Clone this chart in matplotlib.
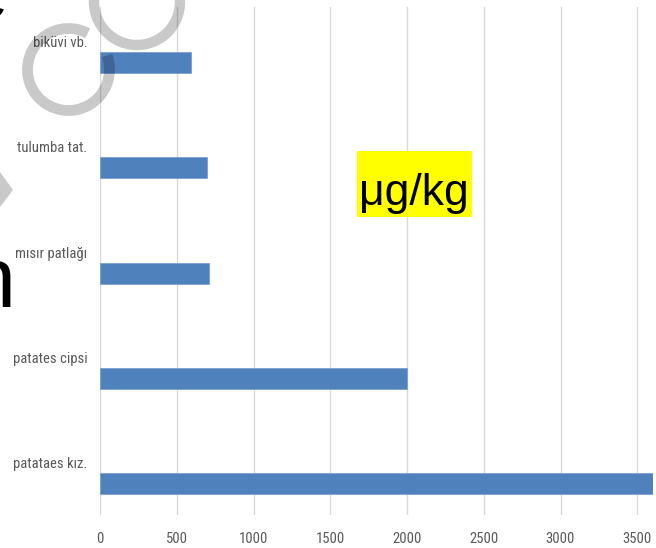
import numpy as np
import matplotlib
matplotlib.use('Agg')
import matplotlib.pyplot as plt
from matplotlib.patches import Arc, Polygon, Rectangle

# 数据（从上到下）
categories = ['biküvi vb.', 'tulumba tat.', 'mısır patlağı', 'patates cipsi', 'patataes kız.']
values = [595, 700, 710, 2000, 3600]
x_ticks = [0, 500, 1000, 1500, 2000, 2500, 3000, 3500]
unit_label = 'μg/kg'

W, H = 656, 548
lab_font = ['Roboto Condensed', 'DejaVu Sans']
grey_txt = '#595959'

fig = plt.figure(figsize=(W / 100, H / 100), dpi=100)
ax = fig.add_axes([100 / W, 33 / H, 552.6 / W, 508 / H])

pos = np.arange(len(categories))[::-1]
ax.barh(pos, values, height=0.2, color='#4f81bd', edgecolor='#7a9fd0', linewidth=0.6, zorder=3)

ax.set_xlim(0, 3600)
ax.set_ylim(-0.30, 4.53)
ax.set_xticks(x_ticks)
ax.set_xticklabels([str(t) for t in x_ticks], family=lab_font, fontsize=10.5, color=grey_txt)
ax.set_yticks(pos + 0.2)
ax.set_yticklabels(categories, family=lab_font, fontsize=10.5, color=grey_txt)
ax.tick_params(axis='both', length=0)
ax.tick_params(axis='x', pad=12)
ax.tick_params(axis='y', pad=9)
ax.grid(axis='x', color='#d9d9d9', linewidth=1, zorder=0)
for s in ax.spines.values():
    s.set_visible(False)

# 覆盖层：水印、裁掉的文字、单位标签（像素坐标，y向上）
ov = fig.add_axes([0, 0, 1, 1], zorder=10)
ov.set_xlim(0, W)
ov.set_ylim(0, H)
ov.axis('off')
ov.patch.set_alpha(0)

ov.add_patch(Arc((137, H - 2), 86, 86, theta1=0, theta2=360, lw=7.5, color='black', alpha=0.21))
ov.add_patch(Arc((68.5, H - 69.5), 82, 82, theta1=62, theta2=380, lw=7.8, color='black', alpha=0.21,
                 capstyle='butt'))
ov.add_patch(Polygon([(0, H - 172), (13, H - 190), (0, H - 207)], closed=True,
                     facecolor='black', alpha=0.21, edgecolor='none'))

ov.text(15, H - 307, 'n', ha='right', va='baseline', fontsize=62, family='Liberation Sans', color='black')
ov.text(8, H - 19, 'e', ha='right', va='baseline', fontsize=62, family='Liberation Sans', color='black')

ov.add_patch(Rectangle((357, H - 217), 115, 66, facecolor='#ffff00', edgecolor='none'))
ov.text(414, H - 205, unit_label, ha='center', va='baseline', fontsize=32,
        family=['Liberation Sans', 'DejaVu Sans'], color='black')

fig.savefig('out.png', dpi=100)
